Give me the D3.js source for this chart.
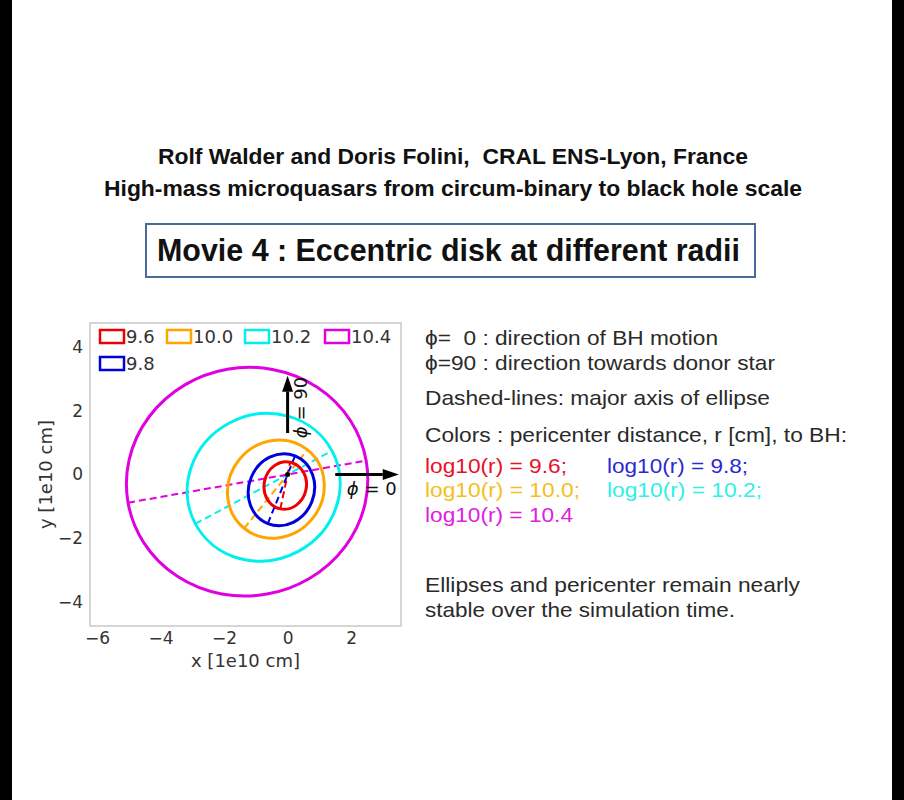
<!DOCTYPE html>
<html>
<head>
<meta charset="utf-8">
<script src="https://cdn.jsdelivr.net/npm/d3@7"></script>
<style>
  body { margin: 0; background: #fff; }
  svg { display: block; }
  text { white-space: pre; }
</style>
</head>
<body>
<script>
// pericenter distance log10(r [cm]), eccentricity, pericenter direction (deg)
var logR = [9.6, 9.8, 10.0, 10.2, 10.4];
var ecc = [0.47, 0.45, 0.37, 0.35, 0.34];
var periAngle = [78, 68, 51, 28, 10];
var legendLabels = ["9.6", "9.8", "10.0", "10.2", "10.4"];
var curveColors = ["#ee0000", "#0000dd", "#ffa500", "#00f0f0", "#e000e0"];
var textColors = ["#e8102a", "#2a2ad0", "#f4c020", "#30f0e8", "#e020e0"];
var xTicks = [-6, -4, -2, 0, 2];
var yTicks = [-4, -2, 0, 2, 4];

var width = 904, height = 800;

var svg = d3.select("body").append("svg")
    .attr("width", width)
    .attr("height", height);

svg.append("rect").attr("width", width).attr("height", height).attr("fill", "#fff");
// black side bars of the video frame
svg.append("rect").attr("x", 0).attr("y", 0).attr("width", 12).attr("height", height).attr("fill", "#000");
svg.append("rect").attr("x", 892).attr("y", 0).attr("width", 12).attr("height", height).attr("fill", "#000");

// titles
var titleFont = "'Liberation Sans', Arial, sans-serif";
svg.append("text")
    .attr("x", 158).attr("y", 164)
    .attr("textLength", 590).attr("lengthAdjust", "spacingAndGlyphs")
    .style("font-family", titleFont).style("font-weight", "bold").style("font-size", "22px")
    .attr("fill", "#111")
    .text("Rolf Walder and Doris Folini,  CRAL ENS-Lyon, France");
svg.append("text")
    .attr("x", 104).attr("y", 196)
    .attr("textLength", 698).attr("lengthAdjust", "spacingAndGlyphs")
    .style("font-family", titleFont).style("font-weight", "bold").style("font-size", "22px")
    .attr("fill", "#111")
    .text("High-mass microquasars from circum-binary to black hole scale");

svg.append("rect")
    .attr("x", 146).attr("y", 224).attr("width", 609).attr("height", 53)
    .attr("fill", "none").attr("stroke", "#4a6a9a").attr("stroke-width", 2);
svg.append("text")
    .attr("x", 157).attr("y", 261)
    .attr("textLength", 583).attr("lengthAdjust", "spacingAndGlyphs")
    .style("font-family", titleFont).style("font-weight", "bold").style("font-size", "31px")
    .attr("fill", "#111")
    .text("Movie 4 : Eccentric disk at different radii");

// plot area
var pLeft = 90, pRight = 401, pTop = 323, pBottom = 626;
var x = d3.scaleLinear().domain([-6.22, 3.57]).range([pLeft, pRight]);
var y = d3.scaleLinear().domain([-4.75, 4.75]).range([pBottom, pTop]);
var kx = x(1) - x(0), ky = y(0) - y(1);

var minus = function(d) { return d < 0 ? "\u2212" + Math.abs(d) : String(d); };
var axisFont = "'DejaVu Sans', sans-serif";

var gx = svg.append("g")
    .attr("transform", "translate(0," + pBottom + ")")
    .call(d3.axisBottom(x).tickValues(xTicks).tickSize(0).tickPadding(6).tickFormat(minus));
var gy = svg.append("g")
    .attr("transform", "translate(" + pLeft + ",0)")
    .call(d3.axisLeft(y).tickValues(yTicks).tickSize(0).tickPadding(7).tickFormat(minus));
[gx, gy].forEach(function(g) {
    g.select(".domain").remove();
    g.selectAll("text")
        .style("font-family", axisFont).style("font-size", "17px").attr("fill", "#333");
});

svg.append("text")
    .attr("x", (pLeft + pRight) / 2).attr("y", 667)
    .attr("text-anchor", "middle")
    .style("font-family", axisFont).style("font-size", "18px").attr("fill", "#333")
    .text("x [1e10 cm]");
svg.append("text")
    .attr("transform", "translate(52," + ((pTop + pBottom) / 2) + ") rotate(-90)")
    .attr("text-anchor", "middle")
    .style("font-family", axisFont).style("font-size", "18px").attr("fill", "#333")
    .text("y [1e10 cm]");

svg.append("clipPath").attr("id", "clip")
    .append("rect").attr("x", pLeft).attr("y", pTop).attr("width", pRight - pLeft).attr("height", pBottom - pTop);

var plot = svg.append("g").attr("clip-path", "url(#clip)");

// ellipse geometry from pericenter distance, eccentricity, orientation (BH in focus)
var orbits = logR.map(function(lr, i) {
    var rp = Math.pow(10, lr - 10);
    var e = ecc[i];
    var a = rp / (1 - e);
    var b = a * Math.sqrt(1 - e * e);
    var w = periAngle[i] * Math.PI / 180;
    var cx = -a * e * Math.cos(w), cy = -a * e * Math.sin(w);
    return { a: a, b: b, w: w, deg: periAngle[i], cx: cx, cy: cy, color: curveColors[i] };
});

plot.selectAll("line.axis-major")
    .data(orbits)
    .enter().append("line")
    .attr("class", "axis-major")
    .attr("x1", function(d) { return x(d.cx - d.a * Math.cos(d.w)); })
    .attr("y1", function(d) { return y(d.cy - d.a * Math.sin(d.w)); })
    .attr("x2", function(d) { return x(d.cx + d.a * Math.cos(d.w)); })
    .attr("y2", function(d) { return y(d.cy + d.a * Math.sin(d.w)); })
    .attr("stroke", function(d) { return d.color; })
    .attr("stroke-width", 2)
    .attr("stroke-dasharray", "7,4");

plot.selectAll("ellipse")
    .data(orbits)
    .enter().append("ellipse")
    .attr("transform", function(d) { return "translate(" + x(d.cx) + "," + y(d.cy) + ") rotate(" + (-d.deg) + ")"; })
    .attr("rx", function(d) { return d.a * kx; })
    .attr("ry", function(d) { return d.b * ky; })
    .attr("fill", "none")
    .attr("stroke", function(d) { return d.color; })
    .attr("stroke-width", 3);

plot.append("circle")
    .attr("cx", x(0)).attr("cy", y(0)).attr("r", 2.5).attr("fill", "#000");

// direction arrows
var arrows = [
    { x0: 0, y0: 1.3, x1: 0, y1: 3.1 },
    { x0: 1.5, y0: 0, x1: 3.5, y1: 0 }
];
arrows.forEach(function(d) {
    var X0 = x(d.x0), Y0 = y(d.y0), X1 = x(d.x1), Y1 = y(d.y1);
    var len = Math.hypot(X1 - X0, Y1 - Y0);
    var ux = (X1 - X0) / len, uy = (Y1 - Y0) / len;
    var hl = 16, hw = 5.5;
    var bx = X1 - ux * hl, by = Y1 - uy * hl;
    plot.append("line")
        .attr("x1", X0).attr("y1", Y0).attr("x2", bx).attr("y2", by)
        .attr("stroke", "#000").attr("stroke-width", 3);
    plot.append("path")
        .attr("d", "M" + X1 + "," + Y1 + "L" + (bx - uy * hw) + "," + (by + ux * hw) + "L" + (bx + uy * hw) + "," + (by - ux * hw) + "Z")
        .attr("fill", "#000");
});

plot.append("text")
    .attr("transform", "translate(" + (x(0) + 19) + "," + y(2.1) + ") rotate(-90)")
    .attr("text-anchor", "middle")
    .style("font-family", axisFont).style("font-size", "18px").attr("fill", "#111")
    .html("<tspan font-style='italic'>\u03D5</tspan> = 90");
plot.append("text")
    .attr("x", x(2.65)).attr("y", y(0) + 20)
    .attr("text-anchor", "middle")
    .style("font-family", axisFont).style("font-size", "18px").attr("fill", "#111")
    .html("<tspan font-style='italic'>\u03D5</tspan> = 0");

// frame
svg.append("rect")
    .attr("x", pLeft).attr("y", pTop).attr("width", pRight - pLeft).attr("height", pBottom - pTop)
    .attr("fill", "none").attr("stroke", "#c8c8c8").attr("stroke-width", 1.5);

// legend (two rows, four columns, column-major)
var legendPos = [[100, 330], [100, 357], [167, 330], [245, 330], [325, 330]];
var leg = svg.append("g");
legendLabels.forEach(function(lab, i) {
    var p = legendPos[i];
    leg.append("rect")
        .attr("x", p[0]).attr("y", p[1]).attr("width", 24).attr("height", 13)
        .attr("fill", "none").attr("stroke", curveColors[i]).attr("stroke-width", 2.5);
    leg.append("text")
        .attr("x", p[0] + 26).attr("y", p[1] + 13)
        .style("font-family", axisFont).style("font-size", "18px").attr("fill", "#333")
        .text(lab);
});

// right-hand notes
var noteFont = "'Liberation Sans', Arial, sans-serif";
var notes = [
    { t: "\u03D5=  0 : direction of BH motion", x: 425, y: 345, w: 293 },
    { t: "\u03D5=90 : direction towards donor star", x: 425, y: 370, w: 350 },
    { t: "Dashed-lines: major axis of ellipse", x: 425, y: 405, w: 345 },
    { t: "Colors : pericenter distance, r [cm], to BH:", x: 425, y: 442, w: 422 },
    { t: "Ellipses and pericenter remain nearly", x: 425, y: 592, w: 375 },
    { t: "stable over the simulation time.", x: 425, y: 617, w: 310 }
];
svg.selectAll("text.note")
    .data(notes)
    .enter().append("text")
    .attr("class", "note")
    .attr("x", function(d) { return d.x; })
    .attr("y", function(d) { return d.y; })
    .attr("textLength", function(d) { return d.w; })
    .attr("lengthAdjust", "spacingAndGlyphs")
    .style("font-family", noteFont).style("font-size", "21px").attr("fill", "#2a2a2a")
    .text(function(d) { return d.t; });

var colorNotePos = [[425, 473, 142], [607, 473, 141], [425, 497, 155], [607, 497, 155], [425, 522, 148]];
svg.selectAll("text.lognote")
    .data(logR)
    .enter().append("text")
    .attr("class", "lognote")
    .attr("x", function(d, i) { return colorNotePos[i][0]; })
    .attr("y", function(d, i) { return colorNotePos[i][1]; })
    .attr("textLength", function(d, i) { return colorNotePos[i][2]; })
    .attr("lengthAdjust", "spacingAndGlyphs")
    .style("font-family", noteFont).style("font-size", "21px")
    .attr("fill", function(d, i) { return textColors[i]; })
    .text(function(d, i) { return "log10(r) = " + d.toFixed(1) + (i < 4 ? ";" : ""); });
</script>
</body>
</html>
